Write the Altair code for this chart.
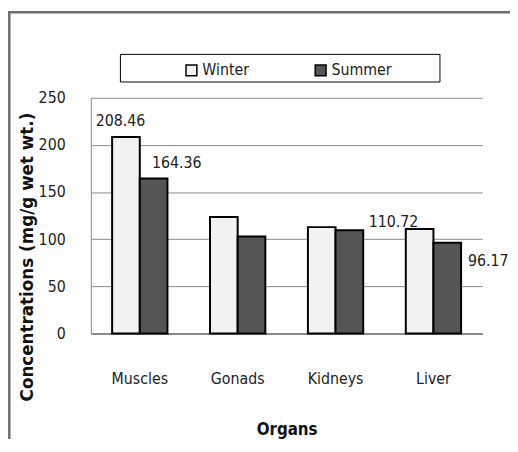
import altair as alt
import pandas as pd

organs = ["Muscles", "Gonads", "Kidneys", "Liver"]
seasons = ["Winter", "Summer"]
winter = [208.46, 123.5, 112.8, 110.72]
summer = [164.36, 102.8, 109.6, 96.17]

rows = []
for o, w, s in zip(organs, winter, summer):
    rows.append({"Organ": o, "Season": "Winter", "Value": w})
    rows.append({"Organ": o, "Season": "Summer", "Value": s})
df = pd.DataFrame(rows)

FONT = "DejaVu Sans Condensed"
FS = 16
GRID = "#8a8a8a"

x_enc = alt.X(
    "Organ:N", sort=organs,
    scale=alt.Scale(paddingInner=0.435, paddingOuter=0.2175),
    axis=alt.Axis(
        title="Organs", labelAngle=0, ticks=False, tickSize=0,
        domainColor=GRID, domainWidth=2, grid=False,
        labelFont=FONT, labelFontSize=FS, labelColor="#222",
        labelBaseline="alphabetic", labelPadding=51,
        titleFont=FONT, titleFontSize=17, titleFontWeight="bold", titleColor="#111",
        titleBaseline="alphabetic", titleY=102,
    ),
)
y_enc = alt.Y(
    "Value:Q",
    scale=alt.Scale(domain=[0, 250], nice=False),
    axis=alt.Axis(
        values=[0, 50, 100, 150, 200, 250], title="Concentrations (mg/g wet wt.)",
        ticks=False, tickSize=0, domainColor=GRID, domainWidth=1,
        gridColor=GRID, gridWidth=1,
        labelFont=FONT, labelFontSize=FS, labelColor="#222", labelPadding=26,
        titleFont="DejaVu Sans", titleFontSize=17, titleFontWeight="bold", titleColor="#111",
        titleX=-64, titleY=161, titleAngle=270, titleAlign="center", titleBaseline="middle",
    ),
)
xoff = alt.XOffset("Season:N", sort=seasons, scale=alt.Scale(paddingInner=0, paddingOuter=0))
color = alt.Color(
    "Season:N", sort=seasons,
    scale=alt.Scale(domain=seasons, range=["#f2f2f2", "#555555"]),
    legend=alt.Legend(
        orient="none", legendX=94, legendY=-36, direction="horizontal", title=None,
        symbolType="square", symbolSize=121, symbolStrokeColor="black", symbolStrokeWidth=1.5,
        labelFont=FONT, labelFontSize=FS, labelColor="#222", columnPadding=63, padding=0, labelOffset=3,
    ),
)

bars = alt.Chart(df).mark_bar(stroke="black", strokeWidth=2).encode(
    x=x_enc, xOffset=xoff, y=y_enc, color=color
)


def label(organ, season, dx, dy):
    return alt.Chart(df).transform_filter(
        (alt.datum.Organ == organ) & (alt.datum.Season == season)
    ).mark_text(
        dx=dx, dy=dy, font=FONT, fontSize=FS, baseline="alphabetic", align="center", color="#222"
    ).encode(
        x=alt.X("Organ:N", sort=organs),
        xOffset=alt.XOffset("Season:N", sort=seasons),
        y="Value:Q",
        text=alt.Text("Value:Q", format=".2f"),
    )


labels = [
    label("Muscles", "Winter", -5.5, -11),
    label("Muscles", "Summer", 23.5, -11),
    label("Liver", "Winter", -26.5, -2),
    label("Liver", "Summer", 41.5, 24),
]

one = alt.Data(values=[{}])
legend_box = alt.Chart(one).mark_rect(fill="white", stroke="black", strokeWidth=1).encode(
    x=alt.value(30), x2=alt.value(354), y=alt.value(-44), y2=alt.value(-16)
)
frame_left = alt.Chart(one).mark_rule(color="#6e6e6e", strokeWidth=2.5).encode(
    x=alt.value(-82.7), y=alt.value(-88), y2=alt.value(346)
)
frame_top = alt.Chart(one).mark_rule(color="#6e6e6e", strokeWidth=2.5).encode(
    x=alt.value(-84), x2=alt.value(425), y=alt.value(-86.7)
)

chart = alt.layer(frame_left, frame_top, legend_box, bars, *labels).properties(
    width=397, height=239,
    padding={"left": 84, "top": 88, "right": 28, "bottom": 107},
    autosize=alt.AutoSizeParams(type="none"),
    background="white",
).configure_view(stroke=None)

chart.save("out.html", embed_options={"renderer": "svg", "actions": False})
